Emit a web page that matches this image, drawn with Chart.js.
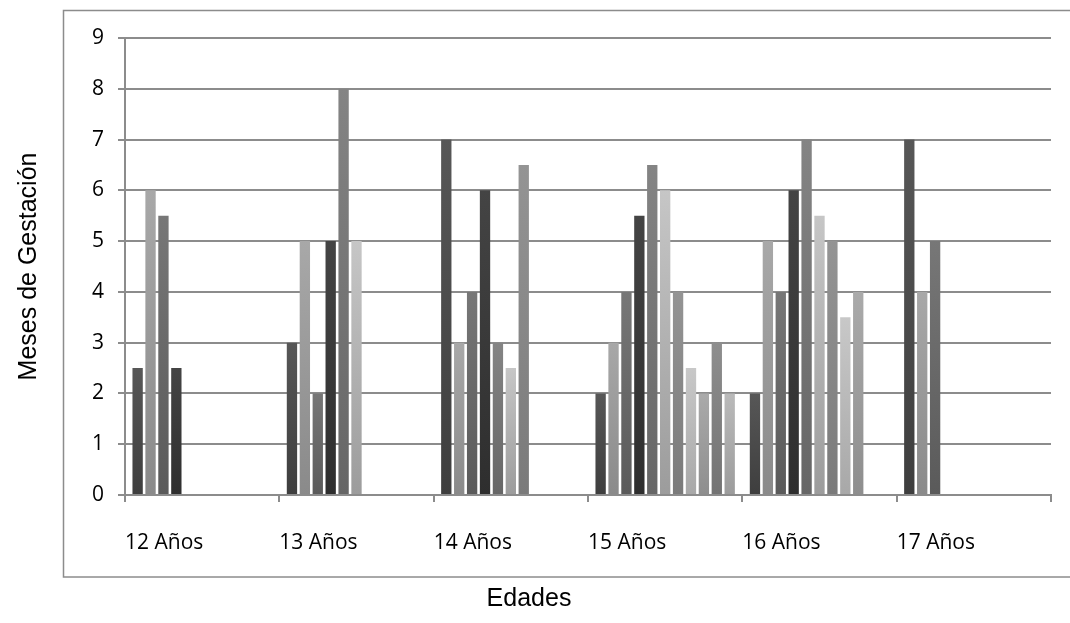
<!DOCTYPE html>
<html>
<head>
<meta charset="utf-8">
<script src="https://cdn.jsdelivr.net/npm/chart.js@4.4.1/dist/chart.umd.min.js"></script>
<style>
  html, body { margin: 0; padding: 0; background: #fff; }
  #wrap { width: 1070px; height: 623px; }
</style>
</head>
<body>
<div id="wrap"><canvas id="g1" width="1070" height="623"></canvas></div>
<script>
// ── Datos ──────────────────────────────────────────────────────────────────
const EDADES   = ["12 Años", "13 Años", "14 Años", "15 Años", "16 Años", "17 Años"];
const Y_TICKS  = [0, 1, 2, 3, 4, 5, 6, 7, 8, 9];

// una serie por paciente dentro de cada edad (meses de gestación)
const serie1  = [2.5, 3,    7,    2,    2,    7];
const serie2  = [6,   5,    3,    3,    5,    4];
const serie3  = [5.5, 2,    4,    4,    4,    5];
const serie4  = [2.5, 5,    6,    5.5,  6,    null];
const serie5  = [null, 8,   3,    6.5,  7,    null];
const serie6  = [null, 5,   2.5,  6,    5.5,  null];
const serie7  = [null, null, 6.5, 4,    5,    null];
const serie8  = [null, null, null, 2.5, 3.5,  null];
const serie9  = [null, null, null, 2,   4,    null];
const serie10 = [null, null, null, 3,   null, null];
const serie11 = [null, null, null, 2,   null, null];

const SERIES = [serie1, serie2, serie3, serie4, serie5, serie6, serie7, serie8, serie9, serie10, serie11];

// tonos de gris estilo Excel (arriba claro → abajo oscuro)
const GRISES = [
  ["#575757", "#3e3e3e"],
  ["#a8a8a8", "#8a8a8a"],
  ["#777777", "#5a5a5a"],
  ["#444444", "#2e2e2e"],
  ["#848484", "#666666"],
  ["#c6c6c6", "#9c9c9c"],
  ["#949494", "#7a7a7a"],
  ["#c8c8c8", "#a8a8a8"],
  ["#aaaaaa", "#8e8e8e"],
  ["#8e8e8e", "#737373"],
  ["#bababa", "#9c9c9c"],
];

const LINEA = "#8c8c8c";
const TICK_FONT  = { family: "'Open Sans', sans-serif", size: 21 };
const TITLE_FONT = { family: "'Liberation Sans', Arial, sans-serif", size: 25 };

function gradiente(top, bottom) {
  return (ctx) => {
    const chart = ctx.chart;
    if (!chart.chartArea || ctx.raw == null) return bottom;
    const y = chart.scales.y;
    const g = chart.ctx.createLinearGradient(0, y.getPixelForValue(ctx.raw), 0, y.getPixelForValue(0));
    g.addColorStop(0, top);
    g.addColorStop(1, bottom);
    return g;
  };
}

// marco exterior del gráfico
const marco = {
  id: "marco",
  beforeDraw(chart) {
    const c = chart.ctx;
    c.save();
    c.strokeStyle = LINEA;
    c.lineWidth = 1.5;
    c.strokeRect(63.5, 10.5, 1100, 566.5);
    c.restore();
  },
};

new Chart(document.getElementById("g1").getContext("2d"), {
  type: "bar",
  data: {
    labels: EDADES,
    datasets: SERIES.map((d, i) => ({
      label: "Serie " + (i + 1),
      data: d,
      backgroundColor: gradiente(GRISES[i][0], GRISES[i][1]),
      borderWidth: 0,
      categoryPercentage: 0.92,
      barPercentage: 0.8,
    })),
  },
  options: {
    responsive: false,
    animation: false,
    layout: { padding: { top: 38, right: 12, left: 0, bottom: 0 } },
    plugins: {
      legend: { display: false },
      tooltip: { enabled: false },
      title: {
        display: true,
        position: "bottom",
        text: "Edades",
        color: "#000",
        font: { ...TITLE_FONT, weight: "normal" },
        padding: { top: 0, bottom: 9 },
      },
    },
    scales: {
      x: {
        position: "bottom",
        offset: true,
        grid: { drawOnChartArea: false, drawTicks: true, tickLength: 7, color: LINEA, lineWidth: 2 },
        border: { color: LINEA, width: 2 },
        ticks: { display: false },
        afterFit(s) { s.height = 8; },
      },
      xl: {
        type: "category",
        position: "bottom",
        labels: [...EDADES, ""],
        offset: false,
        grid: { display: false },
        border: { display: false },
        ticks: { align: "start", color: "#000", font: TICK_FONT, padding: 19, maxRotation: 0, autoSkip: false },
        afterFit(s) { s.height = 81; },
      },
      y: {
        min: 0,
        max: 9,
        afterBuildTicks(s) { s.ticks = Y_TICKS.map((v) => ({ value: v })); },
        grid: { color: LINEA, lineWidth: 2, tickLength: 7 },
        border: { color: LINEA, width: 2 },
        ticks: { color: "#000", font: TICK_FONT, padding: 14 },
        title: { display: true, text: "Meses de Gestación", color: "#000", font: TITLE_FONT, padding: { top: 14 } },
        afterFit(s) { s.width = 125; },
      },
    },
  },
  plugins: [marco],
});
</script>
</body>
</html>
